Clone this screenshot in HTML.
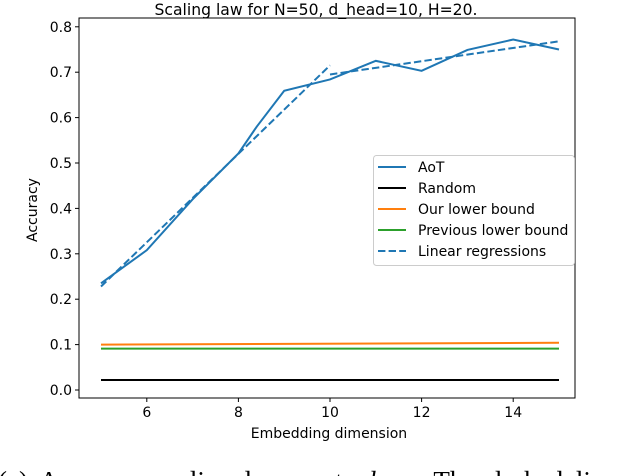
<!DOCTYPE html>
<html style="height:476px;overflow:hidden"><head><meta charset="utf-8"><style>
html,body{margin:0;background:#fff;width:618px;height:476px;overflow:hidden}
body{position:relative}
svg text{font-family:"DejaVu Sans","Liberation Sans",sans-serif;fill:#000}
.cap{position:absolute;left:-2px;top:466px;height:10px;font-family:"Liberation Serif",serif;font-size:27px;line-height:30px;white-space:nowrap;word-spacing:6px;width:620px;overflow:hidden}
</style></head><body>
<svg width="618" height="476" style="position:absolute;left:0;top:0">
<g id="plot"></g>
</svg>
<div class="cap">(a) Accuracy scaling law w.r.t. <i>d</i><sub>emb</sub>. The dashed li</div>
<script>
const aotX=[5,6,7,8,8.4,9,10,11,12,13,14,15];
const aotY=[0.235,0.308,0.42,0.521,0.58,0.659,0.684,0.725,0.703,0.749,0.772,0.75];
const reg1X=[5,10], reg1Y=[0.228,0.715];
const reg2X=[10,15], reg2Y=[0.695,0.768];
const randX=[5,15], randY=[0.022,0.022];
const ourX=[5,15], ourY=[0.100,0.104];
const prevX=[5,15], prevY=[0.091,0.091];
const xTicks=[6,8,10,12,14];
const yTicks=[0.0,0.1,0.2,0.3,0.4,0.5,0.6,0.7,0.8];
const L=79,R=575,T=18,B=398;
const sx=v=>101+(v-5)*45.8;
const sy=v=>390-v*454;
const NS='http://www.w3.org/2000/svg';
const g=document.getElementById('plot');
function mk(tag,attrs,parent){const e=document.createElementNS(NS,tag);for(const k in attrs)e.setAttribute(k,attrs[k]);(parent||g).appendChild(e);return e;}
function line(xs,ys,color,dash,name){
  const p=mk('polyline',{points:xs.map((x,i)=>sx(x)+','+sy(ys[i])).join(' '),fill:'none',stroke:color,'stroke-width':2,'stroke-dasharray':dash||'none'});
  
  
}
line(randX,randY,'#000','','random-line');
line(prevX,prevY,'#2ca02c','','previous-lower-bound-line');
line(ourX,ourY,'#ff7f0e','','our-lower-bound-line');
line(aotX,aotY,'#1f77b4','','aot-line');
line(reg1X,reg1Y,'#1f77b4','7.4,3.2','regression-line-1');
line(reg2X,reg2Y,'#1f77b4','7.4,3.2','regression-line-2');
const fr=mk('rect',{x:L,y:T,width:R-L,height:B-T,fill:'none',stroke:'#000','stroke-width':1});


xTicks.forEach(v=>{
  mk('line',{x1:sx(v),x2:sx(v),y1:B,y2:B+4,stroke:'#000'});
  const t=mk('text',{x:sx(v),y:B+19,'text-anchor':'middle','font-size':14});
  t.textContent=v;
  
  
});
yTicks.forEach(v=>{
  mk('line',{x1:L-4,x2:L,y1:sy(v),y2:sy(v),stroke:'#000'});
  const t=mk('text',{x:L-7,y:sy(v)+5,'text-anchor':'end','font-size':14});
  t.textContent=v.toFixed(1);
  
  
});
const ti=mk('text',{x:316,y:15,'text-anchor':'middle','font-size':15.6});
ti.textContent='Scaling law for N=50, d_head=10, H=20.';


const xl=mk('text',{x:329,y:438,'text-anchor':'middle','font-size':14});
xl.textContent='Embedding dimension';


const yl=mk('text',{x:37,y:210,'text-anchor':'middle','font-size':14,transform:'rotate(-90 37 210)'});
yl.textContent='Accuracy';


const lg=mk('g',{});


mk('rect',{x:373.5,y:155.5,width:201,height:110,rx:3,fill:'#fff','fill-opacity':0.85,stroke:'#ccc'},lg);
const names=['AoT','Random','Our lower bound','Previous lower bound','Linear regressions'];
const cols=['#1f77b4','#000','#ff7f0e','#2ca02c','#1f77b4'];
names.forEach((n,i)=>{
  const y=167+i*21;
  const s=mk('line',{x1:378,x2:406,y1:y,y2:y,stroke:cols[i],'stroke-width':2,'stroke-dasharray':i==4?'7.4,3.2':'none'},lg);
  
  
  const t=mk('text',{x:418,y:y+5,'font-size':14},lg);
  t.textContent=n;
  
  
});
</script>
</body></html>
